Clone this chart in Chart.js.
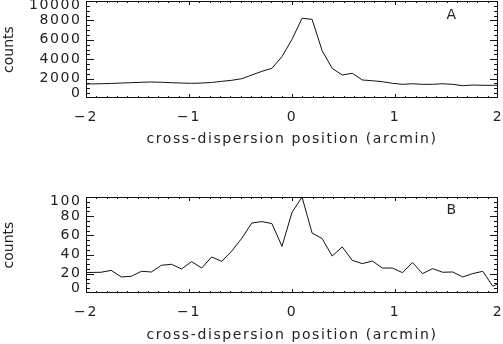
<!DOCTYPE html>
<html>
<head>
<meta charset="utf-8">
<script src="https://cdn.jsdelivr.net/npm/chart.js@4/dist/chart.umd.min.js"></script>
<style>
  html, body { margin: 0; padding: 0; background: #fff; }
  #wrap { position: relative; width: 503px; height: 344px; }
  .panel { position: absolute; left: 0; width: 503px; height: 172px; }
</style>
</head>
<body>
<div id="wrap">
  <div class="panel" style="top:0"><canvas id="chartA" width="503" height="172"></canvas></div>
  <div class="panel" style="top:172px"><canvas id="chartB" width="503" height="172"></canvas></div>
</div>
<script>
// both spectra share the same bins (0.0975 arcmin apart); the outer two are clipped by the axes
const pos = [-2.0475, -1.95, -1.8525, -1.755, -1.6575, -1.56, -1.4625, -1.365, -1.2675, -1.17, -1.0725,
             -0.975, -0.8775, -0.78, -0.6825, -0.585, -0.4875, -0.39, -0.2925, -0.195, -0.0975,
             0, 0.0975, 0.195, 0.2925, 0.39, 0.4875, 0.585, 0.6825, 0.78, 0.8775,
             0.975, 1.0725, 1.17, 1.2675, 1.365, 1.4625, 1.56, 1.6575, 1.755, 1.8525,
             1.95, 2.0475];

const countsA = [1440, 1450, 1470, 1500, 1540, 1580, 1620, 1650, 1620, 1580, 1540,
                 1515, 1540, 1600, 1720, 1825, 1990, 2370, 2750, 3060, 4260,
                 6050, 8220, 8110, 4880, 3060, 2370, 2550, 1860, 1780, 1680,
                 1515, 1410, 1470, 1410, 1410, 1470, 1410, 1270, 1340, 1310,
                 1310, 1310];

const countsB = [21.3, 21.4, 21.6, 23.6, 16.7, 17.4, 22.6, 21.9, 28.9, 29.9, 25,
                 32.7, 26, 37.5, 33, 43.6, 57, 72.9, 74.4, 72.3, 48.6,
                 84, 100, 62.5, 56.7, 38.5, 48, 34, 30.6, 33.3, 26,
                 26, 21.2, 31.7, 20.2, 25.4, 21.6, 21.9, 16.7, 20.2, 22.6,
                 7, 12.6];

const xTicks = [-2, -1, 0, 1, 2];
const yTicksA = [0, 2000, 4000, 6000, 8000, 10000];
const yTicksB = [0, 20, 40, 60, 80, 100];

const FONT = { family: 'DejaVu Sans', size: 14, lineHeight: 1 };
const INK = '#111';
const TEXT = '#222';
const minus = v => String(v).replace('-', '\u2212');
const clamp = (v, lo, hi) => Math.min(Math.max(v, lo), hi);

// wide vector-font look, and end labels pulled inside the frame
const textLook = {
  id: 'textLook',
  beforeDraw(chart) {
    chart.ctx.letterSpacing = '1.6px';
    const y = chart.scales.y;
    const items = y.getLabelItems(chart.chartArea);
    if (!items._nudged) {
      items[0].options.translation[1] -= 5;
      items[items.length - 1].options.translation[1] += 4.5;
      items._nudged = true;
    }
  }
};

// closed frame with inward ticks on all four sides
const frameTicks = {
  id: 'frameTicks',
  afterDatasetsDraw(chart, args, opts) {
    const { ctx, chartArea: a, scales: { x, y } } = chart;
    ctx.save();
    ctx.strokeStyle = INK;
    ctx.lineWidth = 1;
    ctx.strokeRect(a.left + 0.5, a.top + 0.5, a.right - a.left - 1, a.bottom - a.top - 1);
    ctx.beginPath();
    for (let i = 0; i <= 40; i++) {
      const v = x.min + i * 0.1;
      const px = clamp(Math.round(x.getPixelForValue(v)) + 0.5, a.left + 0.5, a.right - 0.5);
      const len = i % 10 === 0 ? 4 : 2;
      ctx.moveTo(px, a.bottom); ctx.lineTo(px, a.bottom - len);
      ctx.moveTo(px, a.top); ctx.lineTo(px, a.top + len);
    }
    const n = Math.round((y.max - y.min) / opts.minor);
    for (let i = 0; i <= n; i++) {
      const v = y.min + i * opts.minor;
      const py = clamp(Math.round(y.getPixelForValue(v)) + 0.5, a.top + 0.5, a.bottom - 0.5);
      const len = i % opts.per === 0 ? 8 : 4;
      ctx.moveTo(a.left, py); ctx.lineTo(a.left + len, py);
      ctx.moveTo(a.right, py); ctx.lineTo(a.right - len, py);
    }
    ctx.stroke();
    ctx.fillStyle = TEXT;
    ctx.font = '14px "DejaVu Sans"';
    ctx.textAlign = 'center';
    ctx.textBaseline = 'middle';
    ctx.letterSpacing = '1.6px';
    ctx.fillText(opts.tag, a.left + opts.tagX, a.top + opts.tagY);
    // y title, set tighter than the rest
    ctx.letterSpacing = '0px';
    ctx.translate(9, (a.top + a.bottom) / 2);
    ctx.rotate(-Math.PI / 2);
    ctx.fillText('counts', 0, 0);
    ctx.restore();
  }
};

function makeChart(id, xs, ys, yTicks, tag, padTop, xAxisH, titlePad, tagY) {
  const yMax = yTicks[yTicks.length - 1];
  const step = yTicks[1] - yTicks[0];
  return new Chart(document.getElementById(id), {
    type: 'line',
    data: {
      datasets: [{
        data: xs.map((v, i) => ({ x: v, y: ys[i] })),
        borderColor: INK,
        borderWidth: 1,
        pointRadius: 0,
        tension: 0
      }]
    },
    options: {
      responsive: false,
      animation: false,
      layout: { padding: { left: 0, right: 5, top: padTop, bottom: 0 } },
      plugins: {
        legend: { display: false },
        tooltip: { enabled: false },
        frameTicks: { minor: step / 4, per: 4, tag: tag, tagX: 366, tagY: tagY }
      },
      scales: {
        x: {
          type: 'linear',
          min: xTicks[0],
          max: xTicks[xTicks.length - 1],
          afterBuildTicks: s => { s.ticks = xTicks.map(v => ({ value: v })); },
          afterFit: s => { s.height = xAxisH; s.paddingLeft = 0; s.paddingRight = 0; },
          ticks: { font: FONT, color: TEXT, padding: 12, maxRotation: 0, callback: v => minus(v) },
          grid: { display: false, drawTicks: false },
          border: { display: false },
          title: { display: true, text: 'cross-dispersion position (arcmin)', font: FONT, color: TEXT,
                   padding: { top: 0, bottom: titlePad } }
        },
        y: {
          type: 'linear',
          min: 0,
          max: yMax,
          afterBuildTicks: s => { s.ticks = yTicks.map(v => ({ value: v })); },
          afterFit: s => { s.width = 86; s.paddingTop = 0; s.paddingBottom = 0; },
          ticks: { font: FONT, color: TEXT, padding: 4.5, callback: v => String(v) },
          grid: { display: false, drawTicks: false },
          border: { display: false }
        }
      }
    },
    plugins: [textLook, frameTicks]
  });
}

makeChart('chartA', pos, countsA, yTicksA, 'A', 1, 74, 26, 14);
makeChart('chartB', pos, countsB, yTicksB, 'B', 25, 51, 2, 13);
</script>
</body>
</html>
